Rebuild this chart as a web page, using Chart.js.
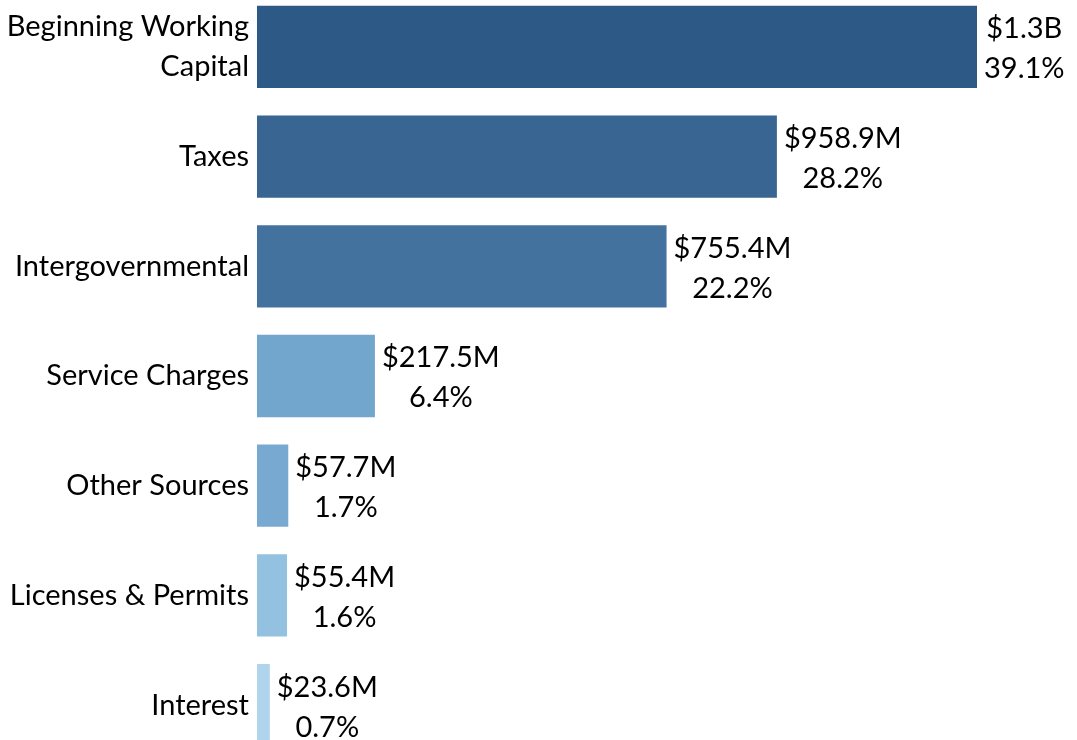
<!DOCTYPE html>
<html>
<head>
<meta charset="utf-8">
<script src="https://cdn.jsdelivr.net/npm/chart.js@4"></script>
<style>
  html, body { margin: 0; padding: 0; background: #fff; overflow: hidden; }
  #wrap { position: relative; width: 1077px; height: 740px; overflow: hidden; }
  #chart { position: absolute; left: 0; top: -8px; }
</style>
</head>
<body>
<div id="wrap"><canvas id="chart" width="1077" height="768"></canvas></div>
<script>
// revenue sources, in millions of dollars
const categories = [
    ['Beginning Working', 'Capital'],
    'Taxes',
    'Intergovernmental',
    'Service Charges',
    'Other Sources',
    'Licenses & Permits',
    'Interest'
];
const amounts = [1328, 958.9, 755.4, 217.5, 57.7, 55.4, 23.6];
const shares = [39.1, 28.2, 22.2, 6.4, 1.7, 1.6, 0.7];
const barColors = ['#2d5986', '#386591', '#44729f', '#72a6cc', '#78aad1', '#93c2e0', '#b0d4eb'];

const FONT = 'Lato, "Noto Sans", sans-serif';
const FONT_SIZE = 29;

function money(v) {
    if (v >= 1000) return '$' + (v / 1000).toFixed(1) + 'B';
    return '$' + v.toFixed(1) + 'M';
}

// two-line value label to the right of each bar
const valueLabels = {
    id: 'valueLabels',
    afterDatasetsDraw(chart) {
        const ctx = chart.ctx;
        const meta = chart.getDatasetMeta(0);
        ctx.save();
        ctx.font = FONT_SIZE + 'px ' + FONT;
        ctx.fillStyle = '#000';
        ctx.textAlign = 'center';
        ctx.textBaseline = 'middle';
        meta.data.forEach((bar, i) => {
            const l1 = money(amounts[i]);
            const l2 = shares[i].toFixed(1) + '%';
            const w = Math.max(ctx.measureText(l1).width, ctx.measureText(l2).width);
            const cx = bar.x + 7 + w / 2;
            ctx.fillText(l1, cx, bar.y - 18);
            ctx.fillText(l2, cx, bar.y + 22);
        });
        ctx.restore();
    }
};

new Chart(document.getElementById('chart'), {
    type: 'bar',
    data: {
        labels: categories,
        datasets: [{
            data: amounts,
            backgroundColor: barColors,
            categoryPercentage: 1,
            barPercentage: 0.75
        }]
    },
    options: {
        indexAxis: 'y',
        responsive: false,
        animation: false,
        layout: { padding: { left: 0, right: 100, top: 0, bottom: 0 } },
        plugins: { legend: { display: false }, tooltip: { enabled: false } },
        scales: {
            x: {
                min: 0,
                max: 1328,
                display: false
            },
            y: {
                grid: { display: false },
                border: { display: false },
                afterFit(scale) {
                    scale.width = 257;
                    scale.paddingTop = 0;
                    scale.paddingBottom = 0;
                },
                ticks: {
                    color: '#000',
                    padding: 0,
                    font: { family: FONT, size: FONT_SIZE, lineHeight: 40 / FONT_SIZE }
                }
            }
        }
    },
    plugins: [valueLabels]
});
</script>
</body>
</html>
